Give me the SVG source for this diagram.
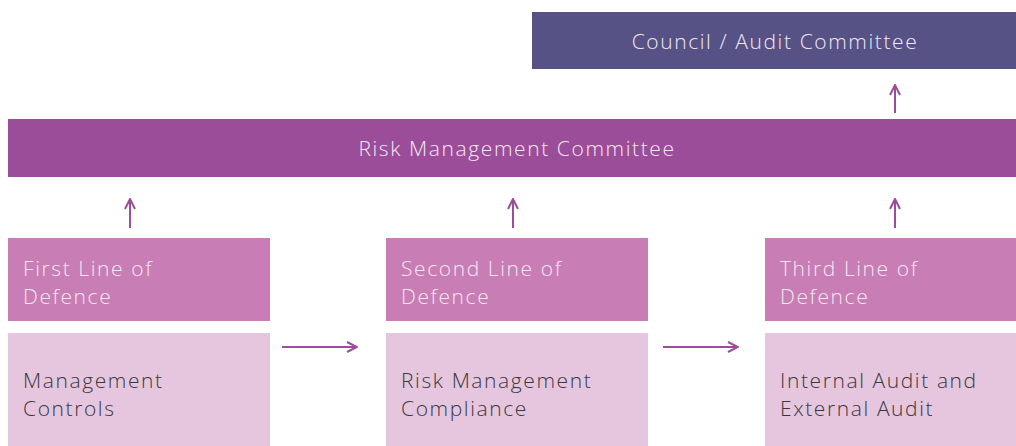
<svg xmlns="http://www.w3.org/2000/svg" width="1016" height="446" viewBox="0 0 1016 446">
<defs>
<style>
text{font-family:"Open Sans","Liberation Sans",sans-serif;font-size:21px;font-weight:300;letter-spacing:1.6px}
.lt{fill:#f3e8f1}
.dk{fill:#3a3a3a}
.arr{stroke:#9c4d99;stroke-width:2;fill:none}
</style>
<marker id="ah" viewBox="0 0 12 12" refX="11" refY="6" markerWidth="12" markerHeight="12" markerUnits="userSpaceOnUse" orient="auto">
<path d="M1,1 L11,6 L1,11" fill="none" stroke="#9c4d99" stroke-width="2"/>
</marker>
</defs>
<rect width="1016" height="446" fill="#ffffff"/>
<g id="council">
<rect x="532" y="12" width="484" height="57" fill="#565285"/>
<text class="lt" x="775" y="49" text-anchor="middle">Council / Audit Committee</text>
</g>
<g id="rmc">
<rect x="8" y="119" width="1008" height="58" fill="#9c4d99"/>
<text class="lt" x="517" y="156" text-anchor="middle">Risk Management Committee</text>
</g>
<g id="first">
<rect x="8" y="238" width="262" height="83" fill="#c87db4"/>
<text class="lt" x="23" y="276">First Line of</text>
<text class="lt" x="23" y="304">Defence</text>
</g>
<g id="second">
<rect x="386" y="238" width="262" height="83" fill="#c87db4"/>
<text class="lt" x="401" y="276">Second Line of</text>
<text class="lt" x="401" y="304">Defence</text>
</g>
<g id="third">
<rect x="765" y="238" width="251" height="83" fill="#c87db4"/>
<text class="lt" x="780" y="276">Third Line of</text>
<text class="lt" x="780" y="304">Defence</text>
</g>
<g id="mgmt">
<rect x="8" y="333" width="262" height="113" fill="#e6c5df"/>
<text class="dk" x="23" y="388">Management</text>
<text class="dk" x="23" y="416">Controls</text>
</g>
<g id="riskcomp">
<rect x="386" y="333" width="262" height="113" fill="#e6c5df"/>
<text class="dk" x="401" y="388">Risk Management</text>
<text class="dk" x="401" y="416">Compliance</text>
</g>
<g id="audit">
<rect x="765" y="333" width="251" height="113" fill="#e6c5df"/>
<text class="dk" x="780" y="388">Internal Audit and</text>
<text class="dk" x="780" y="416">External Audit</text>
</g>
<g id="connectors">
<line class="arr" x1="130" y1="228" x2="130" y2="199" marker-end="url(#ah)"/>
<line class="arr" x1="513" y1="228" x2="513" y2="199" marker-end="url(#ah)"/>
<line class="arr" x1="895" y1="228" x2="895" y2="199" marker-end="url(#ah)"/>
<line class="arr" x1="895" y1="113" x2="895" y2="85" marker-end="url(#ah)"/>
<line class="arr" x1="282" y1="347" x2="357" y2="347" marker-end="url(#ah)"/>
<line class="arr" x1="663" y1="347" x2="738" y2="347" marker-end="url(#ah)"/>
</g>
</svg>
